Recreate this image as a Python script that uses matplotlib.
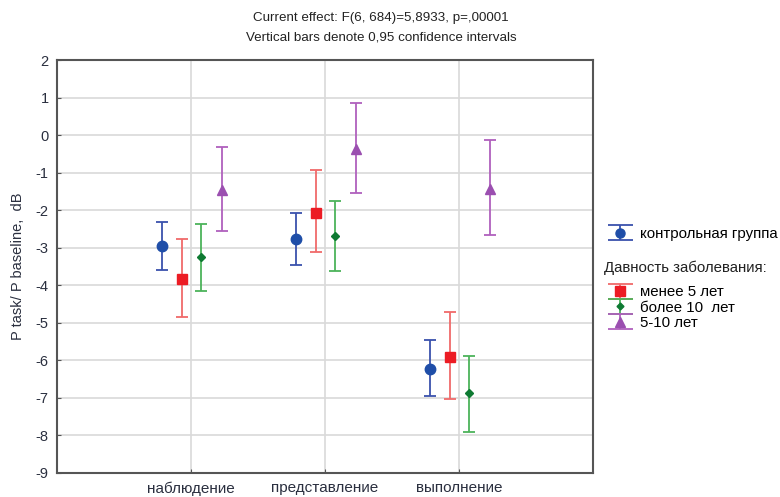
import numpy as np
import matplotlib.pyplot as plt

plt.rcParams['font.family'] = ['Liberation Sans', 'DejaVu Sans']
plt.rcParams['axes.unicode_minus'] = False

# categories on the x axis
categories = ["наблюдение", "представление", "выполнение"]

# group means and 0.95 confidence limits, dB
series_names = ["контрольная группа", "менее 5 лет", "более 10  лет", "5-10 лет"]
means = {
    "контрольная группа": [-2.95, -2.77, -6.23],
    "менее 5 лет":        [-3.83, -2.08, -5.91],
    "более 10  лет":      [-3.25, -2.68, -6.88],
    "5-10 лет":           [-1.46, -0.37, -1.44],
}
upper = {
    "контрольная группа": [-2.31, -2.08, -5.46],
    "менее 5 лет":        [-2.77, -0.94, -4.70],
    "более 10  лет":      [-2.36, -1.76, -5.89],
    "5-10 лет":           [-0.31, 0.86, -0.13],
}
lower = {
    "контрольная группа": [-3.60, -3.46, -6.94],
    "менее 5 лет":        [-4.85, -3.11, -7.04],
    "более 10  лет":      [-4.15, -3.63, -7.91],
    "5-10 лет":           [-2.56, -1.53, -2.67],
}

# style per series: bar colour, marker colour, marker, size, x offset
styles = {
    "контрольная группа": ("#3a52ad", "#1f4ea8", "o", 7.5, -0.22),
    "менее 5 лет":        ("#f06a6a", "#ec1c24", "s", 7.5, -0.07),
    "более 10  лет":      ("#4cb35a", "#0e7a32", "D", 4.5, 0.075),
    "5-10 лет":           ("#b060bd", "#9b4fb0", "^", 7.5, 0.23),
}

fig = plt.figure(figsize=(7.8, 4.97), dpi=100)
ax = fig.add_axes([57 / 780, 1 - 473 / 497, 536 / 780, 413 / 497])

x = np.arange(1, len(categories) + 1)
handles = {}
for name in series_names:
    bar_c, mark_c, mk, ms, off = styles[name]
    m = np.array(means[name])
    err = [m - np.array(lower[name]), np.array(upper[name]) - m]
    ax.errorbar(x + off, m, yerr=err, fmt=mk, color=bar_c, mfc=mark_c, mec=mark_c,
                ms=ms, ecolor=bar_c, elinewidth=1.3, capsize=4.5, capthick=1.3, zorder=3)
    # proxy with wider caps for the legend
    h = ax.errorbar([np.nan], [np.nan], yerr=[[0.5], [0.5]], fmt=mk, color=bar_c,
                    mfc=mark_c, mec=mark_c, ms=ms - 1, ecolor=bar_c, elinewidth=1.3,
                    capsize=9, capthick=1.3)
    handles[name] = h

ax.set_xlim(0, 4)
ax.set_ylim(-9, 2)
ax.set_yticks(np.arange(-9, 3, 1))
ax.set_xticks(x)
ax.set_xticklabels(categories, fontsize=11)
ax.grid(True, color="#d9d9d9", linewidth=1.2)
ax.set_axisbelow(True)
for sp in ax.spines.values():
    sp.set_color("#555555")
    sp.set_linewidth(1.5)
ax.tick_params(direction="in", length=3, color="#555555", labelsize=10.5,
               labelcolor="#2a2f3f", pad=6)
ax.tick_params(axis="x", labelsize=11)
ax.set_ylabel("P task/ P baseline,  dB", fontsize=10.5, color="#2a2f3f", labelpad=8)

fig.text(381 / 780, 1 - 18 / 497, "Current effect: F(6, 684)=5,8933, p=,00001",
         ha="center", va="center", fontsize=9.6, color="#222222")
fig.text(381 / 780, 1 - 37 / 497, "Vertical bars denote 0,95 confidence intervals",
         ha="center", va="center", fontsize=9.6, color="#222222")

fig.legend([handles[series_names[0]]], [series_names[0]], loc="center left",
           bbox_to_anchor=(597 / 780, 1 - 234 / 497), frameon=False,
           fontsize=10.8, handlelength=2.0, handletextpad=0.4, borderpad=0)
fig.text(604 / 780, 1 - 268 / 497, "Давность заболевания:", ha="left", va="center",
         fontsize=10.8, color="#222222")
fig.legend([handles[n] for n in series_names[1:]], series_names[1:], loc="upper left",
           bbox_to_anchor=(597 / 780, 1 - 278 / 497), frameon=False, fontsize=10.8,
           handlelength=2.0, handletextpad=0.4, borderpad=0, labelspacing=0.08)

fig.savefig("out.png", dpi=100)
